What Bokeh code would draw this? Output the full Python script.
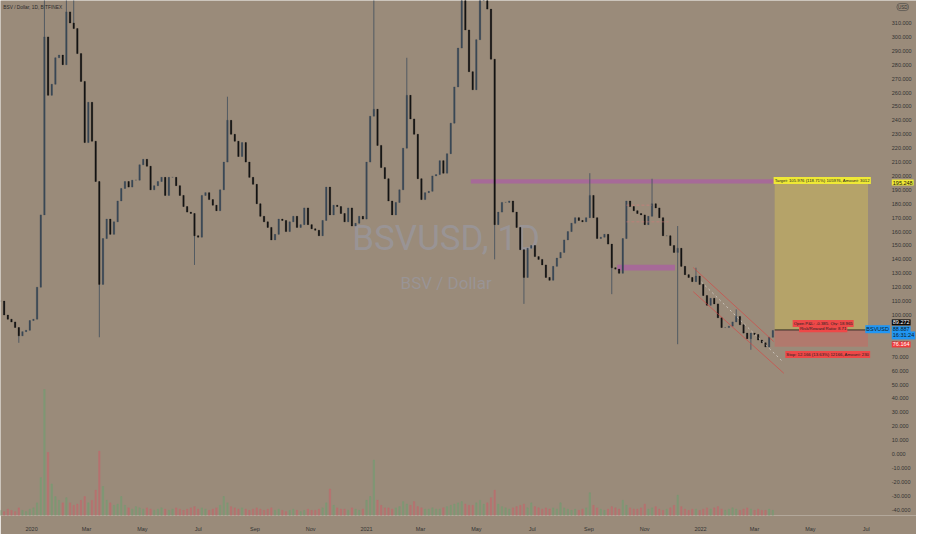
import pandas as pd
from bokeh.plotting import figure
from bokeh.models import (Range1d, FixedTicker, Label, ColumnDataSource)
from bokeh.core.properties import value
from bokeh.embed import file_html
from bokeh.resources import INLINE

# ---------------- data ----------------
start_date = "2019-11-28"          # first candle (4-day candles)
candle_step = "4D"
closes = [
    110, 100, 97, 95, 91, 85, 88, 89, 96, 97,
    120, 172, 300, 258, 266, 285, 287, 280, 318, 310,
    306, 288, 268, 224, 253, 225, 196, 122, 155, 169,
    158, 167, 182, 191, 196, 192, 197, 197, 208, 212,
    207, 190, 193, 196, 199, 186, 199, 199, 193, 186,
    178, 174, 173, 157, 156, 186, 188, 183, 179, 175,
    190, 210, 240, 230, 225, 214, 224, 210, 199, 194,
    180, 171, 167, 163, 154, 158, 169, 168, 160, 167,
    171, 163, 165, 177, 165, 162, 161, 157, 168, 192,
    172, 179, 178, 173, 167, 177, 164, 166, 171, 169,
    210, 243, 248, 222, 206, 198, 182, 172, 181, 190,
    220, 258, 241, 230, 198, 183, 188, 189, 200, 201,
    211, 202, 216, 238, 264, 292, 340, 305, 275, 262,
    298, 340, 345, 320, 284, 165, 174, 181, 181, 182,
    174, 163, 147, 127, 148, 150, 142, 140, 136, 127,
    125, 135, 141, 145, 154, 160, 166, 170, 168, 167,
    170, 186, 170, 155, 156, 158, 151, 134, 133, 130,
    155, 182, 178, 175, 173, 172, 165, 171, 180, 177,
    170, 157, 157, 150, 145, 148, 135, 129, 127, 124,
    128, 122, 114, 107, 112, 108, 98, 91, 91, 92,
    95, 99, 93, 87, 83, 87, 86, 82, 80, 77,
    84, 88.887,
]
volumes = [
    4, 3, 5, 4, 3, 6, 4, 3, 5, 6,
    10, 30, 100, 50, 25, 15, 12, 10, 14, 10,
    8, 9, 12, 15, 10, 12, 20, 51, 23, 12,
    10, 8, 9, 15, 8, 6, 5, 7, 6, 5,
    6, 5, 4, 5, 6, 5, 4, 5, 6, 5,
    4, 5, 6, 7, 5, 6, 5, 4, 5, 6,
    8, 15, 10, 7, 6, 5, 6, 5, 4, 5,
    6, 5, 4, 5, 6, 4, 5, 4, 3, 4,
    5, 4, 3, 4, 5, 4, 4, 5, 6, 10,
    21, 8, 6, 5, 5, 4, 6, 5, 4, 5,
    12, 15, 44, 12, 8, 6, 6, 5, 6, 7,
    11, 9, 8, 11, 7, 6, 5, 5, 6, 5,
    5, 6, 7, 8, 9, 10, 11, 9, 8, 8,
    10, 12, 9, 10, 14, 20, 9, 7, 6, 5,
    6, 7, 8, 9, 6, 10, 7, 6, 5, 6,
    5, 6, 5, 10, 6, 5, 4, 5, 4, 5,
    6, 18, 8, 6, 5, 4, 5, 7, 6, 5,
    12, 8, 6, 5, 5, 6, 9, 5, 6, 7,
    5, 4, 5, 6, 8, 16, 7, 5, 4, 5,
    5, 4, 5, 6, 5, 6, 7, 5, 4, 5,
    6, 5, 4, 5, 6, 5, 4, 5, 4, 4,
    5, 4,
]
wick_up_index = [12, 18, 20, 62, 102, 111, 126, 132, 161, 178, 185, 190, 201]
wick_up_price = [440, 345, 335, 257, 330, 285, 400, 420, 202, 198, 164, 134, 104]
wick_dn_index = [5, 27, 53, 135, 143, 167, 185, 205]
wick_dn_price = [80, 84, 136, 140, 108, 115, 79, 75]

# x-axis ticks
tick_dates = ["2020-01-01", "2020-03-01", "2020-05-01", "2020-07-01", "2020-09-01", "2020-11-01",
              "2021-01-01", "2021-03-01", "2021-05-01", "2021-07-01", "2021-09-01", "2021-11-01",
              "2022-01-01", "2022-03-01", "2022-05-01", "2022-07-01"]
tick_labels = ["2020", "Mar", "May", "Jul", "Sep", "Nov",
               "2021", "Mar", "May", "Jul", "Sep", "Nov",
               "2022", "Mar", "May", "Jul"]
price_ticks = [-40, -30, -20, -10, 0, 10, 20, 30, 40, 50, 60, 70, 80, 90, 100, 110, 120, 130, 140,
               150, 160, 170, 180, 190, 200, 210, 220, 230, 240, 250, 260, 270, 280, 290, 300, 310]

# drawings
zone_start = ["2021-04-25", "2021-10-02"]
zone_end = ["2022-03-23", "2021-12-04"]
zone_low = [194.6, 132.0]
zone_high = [197.6, 136.2]

channel_upper_dates = ["2021-12-24", "2022-03-22"]
channel_upper_prices = [134.1, 80.9]
channel_lower_dates = ["2021-12-24", "2022-04-02"]
channel_lower_prices = [116.8, 58.1]
channel_mid_dates = ["2022-01-02", "2022-03-31"]
channel_mid_prices = [123.7, 67.0]
range_line_dates = [["2021-10-12", "2021-11-09"], ["2021-10-12", "2021-11-27"]]
range_line_prices = [179, 167]

entry_date, exit_date = "2022-03-23", "2022-07-03"
entry_price, target_price, stop_price = 89.272, 195.248, 77.106
last_price = 88.887

# ---------------- figure ----------------
def ms(s):
    return pd.Timestamp(s).value / 1e6

BG = "#9a8b7a"
pane_end = ms("2022-07-27")        # right edge of the price pane
x_start, x_end = ms("2019-11-28"), ms("2022-08-25")   # includes the price scale strip
axis_x = ms("2022-07-29")
p = figure(width=916, height=534, output_backend="svg", toolbar_location=None,
           x_axis_type="datetime", y_axis_location=None,
           x_range=Range1d(x_start, x_end), y_range=Range1d(-44.2, 326.2),
           min_border_left=0, min_border_top=0, min_border_right=0, min_border_bottom=14)
p.background_fill_color = BG
p.border_fill_color = BG
p.outline_line_color = None
p.grid.visible = False
p.extra_y_ranges = {"vol": Range1d(0, 409)}

ax = p.xaxis[0]
ax.axis_line_color = None
ax.major_tick_line_color = None
ax.minor_tick_line_color = None
ax.major_label_text_color = "#333333"
ax.major_label_text_font = "Liberation Sans"
ax.major_label_text_font_size = "5.5px"
tick_ms = [int(ms(d)) for d in tick_dates]
ax.ticker = FixedTicker(ticks=tick_ms)
ax.major_label_overrides = {t: l for t, l in zip(tick_ms, tick_labels)}
ax.major_label_standoff = 4

# price scale labels
p.text(x=[axis_x] * len(price_ticks), y=price_ticks, text=[f"{v:.3f}" for v in price_ticks],
       text_font=value("Liberation Sans"), text_font_size="5.5px", text_color="#333333",
       text_align="left", text_baseline="middle")

dates = pd.date_range(start_date, periods=len(closes), freq=candle_step)
opens = [closes[0]] + closes[:-1]
up = [c >= o for o, c in zip(opens, closes)]
src = ColumnDataSource(dict(
    x=dates, open=opens, close=closes, vol=volumes,
    top=[max(o, c) for o, c in zip(opens, closes)],
    bottom=[min(o, c) for o, c in zip(opens, closes)],
    color=["#3a4856" if u else "#141414" for u in up],
    vcolor=["#6f9f72" if u else "#c8646a" for u in up],
))
day = 86400000

# watermark
wm_x = ms("2021-03-29")
p.add_layout(Label(x=wm_x, y=155, text="BSVUSD, 1D", text_align="center", text_baseline="middle",
                   text_font="Roboto", text_font_size="35px", text_color="#98a0b8", text_alpha=0.45,
                   level="underlay"))
p.add_layout(Label(x=wm_x, y=123, text="BSV / Dollar", text_align="center", text_baseline="middle",
                   text_font="Roboto", text_font_size="17px", text_color="#98a0b8", text_alpha=0.45,
                   level="underlay"))
p.add_layout(Label(x=ms("2019-12-01"), y=321, text="BSV / Dollar, 1D, BITFINEX", text_baseline="middle",
                   text_font="Liberation Sans", text_font_size="4.8px", text_color="#2a2a2a", level="underlay"))

# volume
p.vbar(x="x", top="vol", bottom=0, width=1.4 * day, color="vcolor", alpha=0.45, source=src, y_range_name="vol")

# horizontal zones
p.quad(left=[ms(d) for d in zone_start], right=[ms(d) for d in zone_end], bottom=zone_low, top=zone_high,
       fill_color="#a8649e", fill_alpha=0.85, line_color=None)

# position tool
p.quad(left=[ms(entry_date)], right=[ms(exit_date)], bottom=[entry_price], top=[target_price],
       fill_color="#e8d04a", fill_alpha=0.35, line_color=None)
p.quad(left=[ms(entry_date)], right=[ms(exit_date)], bottom=[stop_price], top=[entry_price],
       fill_color="#e85050", fill_alpha=0.3, line_color=None)
p.line([ms(entry_date), ms(exit_date)], [entry_price, entry_price], line_color="#111111", line_width=0.8)

# wicks & candles
wx = [dates[i] for i in wick_up_index] + [dates[i] for i in wick_dn_index]
wy0 = [max(opens[i], closes[i]) for i in wick_up_index] + [min(opens[i], closes[i]) for i in wick_dn_index]
wy1 = wick_up_price + wick_dn_price
p.segment(x0=wx, y0=wy0, x1=wx, y1=wy1, line_color="#4a5560", line_width=0.9)
p.segment(x0="x", y0="open", x1="x", y1="close", line_color="color", line_width=0.8, source=src)
p.vbar(x="x", top="top", bottom="bottom", width=1.6 * day, fill_color="color", line_color="color",
       line_width=0.3, source=src)

# channel lines
p.line([ms(d) for d in channel_upper_dates], channel_upper_prices, line_color="#e03a3a", line_alpha=0.7, line_width=0.8)
p.line([ms(d) for d in channel_lower_dates], channel_lower_prices, line_color="#e03a3a", line_alpha=0.7, line_width=0.8)
p.line([ms(d) for d in channel_mid_dates], channel_mid_prices, line_color="#f0f0f0", line_alpha=0.7,
       line_width=0.8, line_dash="2 3")
for ds, pr in zip(range_line_dates, range_line_prices):
    p.line([ms(d) for d in ds], [pr, pr], line_color="#d87878", line_alpha=0.7, line_width=0.8, line_dash="3 2")

# position labels
def tag(x, y, text, bg, fg, size="4.3px", align="center"):
    p.add_layout(Label(x=x, y=y, text=text, text_align=align, text_baseline="middle",
                       text_font="Liberation Sans", text_font_size=size, text_color=fg,
                       background_fill_color=bg, padding=1))

tag(ms("2022-05-14"), target_price + 1.5, "Target: 105.976 (118.71%) 105976, Amount: 3012", "#efe935", "#222222")
tag(ms("2022-05-15"), entry_price + 4.6, "Open P&L: -0.385, Qty: 18.965", "#ee4848", "#222222")
tag(ms("2022-05-15"), entry_price + 0.9, "Risk/Reward Ratio: 8.71", "#ee4848", "#222222")
tag(ms("2022-05-20"), stop_price - 5.5, "Stop: 12.166 (13.63%) 12166, Amount: 230", "#ee4848", "#222222")

# price tags on the scale
tag_prices = [target_price, 94.7, last_price + 0.9, 85.3, 78.8]
tag_texts = ["195.248", "89.272", "88.887", "16:31:24", "76.164"]
tag_bg = ["#efe935", "#0a0a0a", "#2196f3", "#2196f3", "#ee3b3b"]
tag_fg = ["#111111", "#ffffff", "#0d1b2a", "#0d1b2a", "#ffffff"]
for pr, t, bg, fg in zip(tag_prices, tag_texts, tag_bg, tag_fg):
    tag(axis_x, pr, t, bg, fg, size="5.5px", align="left")
tag(pane_end, last_price + 0.9, "BSVUSD", "#2196f3", "#0d1b2a", size="5.5px", align="right")
p.add_layout(Label(x=ms("2022-08-10"), y=321.5, text="USD", text_align="center", text_baseline="middle",
                   text_font="Liberation Sans", text_font_size="4.5px", text_color="#333333",
                   border_line_color="#444444", border_line_width=0.6, padding=1, border_radius=3))

open("out.html", "w").write(file_html(p, INLINE))
